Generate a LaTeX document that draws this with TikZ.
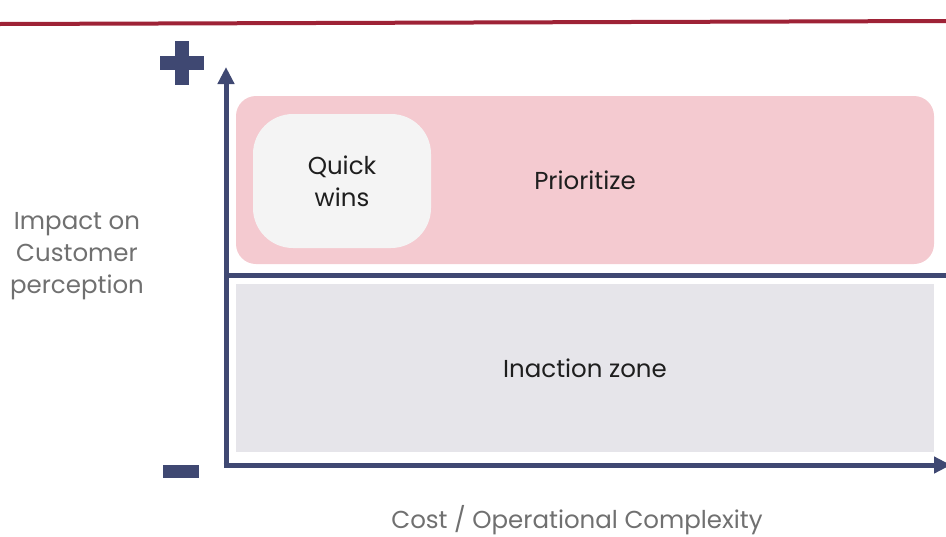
\documentclass[tikz,border=0pt]{standalone}
\usepackage{fontspec}
\setmainfont{Poppins}
\usetikzlibrary{arrows.meta}
\definecolor{axisblue}{HTML}{3F4872}
\definecolor{topred}{HTML}{9E2236}
\definecolor{prioPink}{HTML}{F4CAD0}
\definecolor{winsGray}{HTML}{F4F4F4}
\definecolor{zoneGray}{HTML}{E6E5EA}
\definecolor{labelGray}{HTML}{707070}
\definecolor{textBlack}{HTML}{1E1E1E}

\begin{document}
\begin{tikzpicture}[x=1pt, y=-1pt,
        zone/.style={inner sep=0pt, text=textBlack, font=\fontsize{24.5}{32}\selectfont},
        axislabel/.style={text=labelGray, align=center, font=\fontsize{24.5}{32}\selectfont},
        axisline/.style={draw=axisblue, line width=5pt},
    ]
        \useasboundingbox (0,0) rectangle (946,536);
        \draw[topred, line width=4pt] (0,24) -- (946,21);

        \node[zone, fill=prioPink, rounded corners=20pt, minimum width=698pt, minimum height=168pt] (prio) at (585,180) {Prioritize};
        \node[zone, fill=winsGray, rounded corners=40pt, minimum width=178pt, minimum height=134pt, align=center] (wins) at (342,181) {Quick\\wins};
        \node[zone, fill=zoneGray, minimum width=698pt, minimum height=168pt] (inaction) at (585,368) {Inaction zone};

        \coordinate (origin) at (226,465);
        \coordinate (ytip) at (226,67);
        \coordinate (xtip) at (951,465);
        \coordinate (midl) at (226,275);
        \coordinate (midr) at (950,275);
        \draw[axisline, -{Triangle[length=17pt, width=16pt]}] ([yshift=2.5pt]origin) -- (ytip);
        \draw[axisline, -{Triangle[length=17pt, width=16pt]}] ([xshift=-2.5pt]origin) -- (xtip);
        \draw[axisline] (midl) -- (midr);

        \fill[axisblue] (160,56) rectangle (204,70);
        \fill[axisblue] (175,41) rectangle (189,85);
        \fill[axisblue] (163,465) rectangle (199,478);

        \node[axislabel] (impact) at (77,256) {Impact on\\Customer\\perception};
        \node[axislabel] (cost) at (577,520) {Cost / Operational Complexity};
    \end{tikzpicture}
\end{document}
